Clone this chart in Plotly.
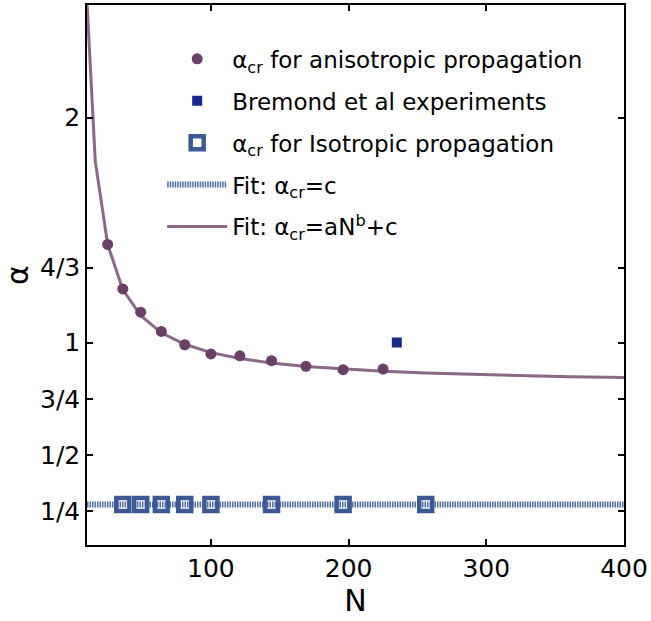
import plotly.graph_objects as go

# Anisotropic propagation critical alpha
N_aniso = [25, 36, 49, 64, 81, 100, 121, 144, 169, 196, 225]
alpha_aniso = [1.436, 1.238, 1.135, 1.049, 0.990, 0.949, 0.941, 0.919, 0.894, 0.879, 0.882]

# Bremond et al experiment
N_brem = [235]
alpha_brem = [1.0]

# Isotropic propagation critical alpha
N_iso = [36, 49, 64, 81, 100, 144, 196, 256]
alpha_iso = [0.28, 0.28, 0.28, 0.28, 0.28, 0.28, 0.28, 0.28]

# Fit: alpha_cr = c
N_fitc = [10, 400]
alpha_fitc = [0.28, 0.28]

# Fit: alpha_cr = a N^b + c
N_fitp = [9, 16, 25, 36, 49, 64, 81, 100, 121, 144, 169, 196, 225, 256, 289, 324, 361, 400]
alpha_fitp = [2.63, 1.806, 1.436, 1.235, 1.12, 1.043, 0.992, 0.955, 0.929, 0.909,
              0.893, 0.882, 0.872, 0.864, 0.858, 0.852, 0.848, 0.844]

x_ticks = [100, 200, 300, 400]
y_tickvals = [0.25, 0.5, 0.75, 1.0, 4 / 3, 2.0]
y_ticktext = ["1/4", "1/2", "3/4", "1", "4/3", "2"]

FONT = "DejaVu Sans"
purple_line = "#8a6886"
purple_mark = "#6b3f66"
blue_line = "#4f6ea8"
blue_mark = "#3c5895"
navy = "#182a8e"

fig = go.Figure()

fig.add_trace(go.Scatter(
    x=N_fitp, y=alpha_fitp, mode="lines",
    line=dict(color=purple_line, width=3),
    name="Fit: α<sub>cr</sub>=aN<sup>b</sup>+c", legendrank=5, legendgroup="g5"))

fig.add_trace(go.Scatter(
    x=N_fitc, y=alpha_fitc, mode="lines",
    line=dict(color=blue_line, width=6, dash="1.5px,1px"),
    name="Fit: α<sub>cr</sub>=c", legendrank=4, legendgroup="g4"))

fig.add_trace(go.Scatter(
    x=N_aniso, y=alpha_aniso, mode="markers",
    marker=dict(color=purple_mark, size=11, symbol="circle"),
    name="α<sub>cr</sub> for anisotropic propagation", legendrank=1, legendgroup="g1"))

fig.add_trace(go.Scatter(
    x=N_brem, y=alpha_brem, mode="markers",
    marker=dict(color=navy, size=10, symbol="square"),
    name="Bremond et al experiments", legendrank=2, legendgroup="g2"))

fig.add_trace(go.Scatter(
    x=N_iso, y=alpha_iso, mode="markers",
    marker=dict(color=blue_mark, size=13, symbol="square-open",
                line=dict(width=4.5, color=blue_mark)),
    name="α<sub>cr</sub> for Isotropic propagation", legendrank=3, legendgroup="g3"))

axis_common = dict(
    showline=True, linecolor="black", linewidth=1.5, mirror="ticks",
    ticks="inside", ticklen=6, tickwidth=1.5, tickcolor="black",
    showgrid=False, zeroline=False,
    tickfont=dict(family=FONT, size=25, color="black"),
)

fig.update_layout(
    width=651, height=621,
    margin=dict(l=87, r=24, t=3, b=76),
    paper_bgcolor="white", plot_bgcolor="white",
    font=dict(family=FONT, color="black"),
    xaxis=dict(range=[10, 400], tickvals=x_ticks,
               title=dict(text="N", font=dict(family=FONT, size=30), standoff=6),
               **axis_common),
    yaxis=dict(range=[0.1, 2.5], tickvals=y_tickvals, ticktext=y_ticktext,
               title=dict(text="α", font=dict(family=FONT, size=30), standoff=8),
               **axis_common),
    legend=dict(x=0.14, y=0.94, xanchor="left", yanchor="top",
                bgcolor="rgba(0,0,0,0)", borderwidth=0,
                font=dict(family=FONT, size=23, color="black"),
                itemwidth=60, tracegroupgap=9, traceorder="grouped"),
    showlegend=True,
)

fig.write_html("out.html")
